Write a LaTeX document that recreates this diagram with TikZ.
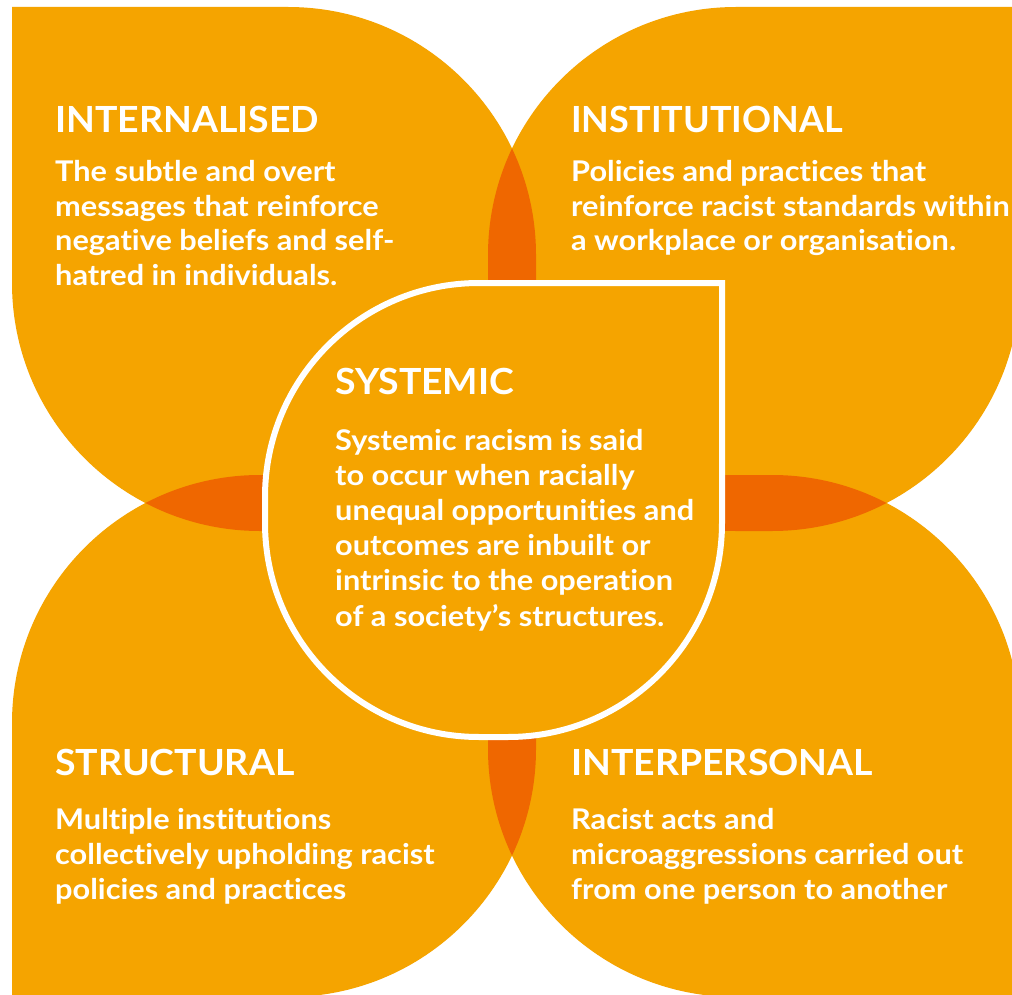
\documentclass[tikz,border=0pt]{standalone}
\usepackage{fontspec}
\setmainfont{Lato}[Ligatures=NoCommon]
\newfontfamily\headfont{Lato}[Ligatures=NoCommon,FakeStretch=1.04]
\newfontfamily\headfontnarrow{Lato}[Ligatures=NoCommon]
\newfontfamily\bodyfont{Lato}[Ligatures=NoCommon,FakeStretch=1.078]
\definecolor{petal}{HTML}{F5A400}
\definecolor{petaldark}{HTML}{EF6700}

% Petal outlines: squares with one sharp outer corner and three rounded ones
\def\petalTL{(12,7) -- (288,7) arc[start angle=-90,end angle=0,radius=248]
  -- (536,283) arc[start angle=0,end angle=90,radius=248]
  -- (260,531) arc[start angle=90,end angle=180,radius=248] -- cycle}
\def\petalTR{(1020,7) -- (1020,283) arc[start angle=0,end angle=90,radius=248]
  -- (736,531) arc[start angle=90,end angle=180,radius=248]
  -- (488,255) arc[start angle=180,end angle=270,radius=248] -- cycle}
\def\petalBL{(12,997) -- (12,723) arc[start angle=180,end angle=270,radius=248]
  -- (288,475) arc[start angle=270,end angle=360,radius=248]
  -- (536,749) arc[start angle=0,end angle=90,radius=248] -- cycle}
\def\petalBR{(1020,997) -- (736,997) arc[start angle=90,end angle=180,radius=248]
  -- (488,723) arc[start angle=180,end angle=270,radius=248]
  -- (772,475) arc[start angle=270,end angle=360,radius=248] -- cycle}
% Central shape: rounded square with a sharp top-right corner
\def\hub{(722,283) -- (722,523) arc[start angle=0,end angle=90,radius=214]
  -- (479,737) arc[start angle=90,end angle=180,radius=214]
  -- (265,497) arc[start angle=180,end angle=270,radius=214] -- cycle}

\begin{document}
\begin{tikzpicture}[x=1pt,y=-1pt,
  heading/.style={anchor=base west,inner sep=0pt,text=white,
    font=\headfont\fontsize{36}{42}\selectfont\bfseries},
  narrowheading/.style={heading,
    font=\headfontnarrow\fontsize{36}{42}\selectfont\bfseries},
  body/.style={anchor=base west,inner sep=0pt,text=white,
    font=\bodyfont\fontsize{28.5}{33}\selectfont\bfseries}]
\useasboundingbox (0,0) rectangle (1012,995);
\fill[white] (0,0) rectangle (1012,995);

% petals
\fill[petal] \petalTL;
\fill[petal] \petalTR;
\fill[petal] \petalBL;
\fill[petal] \petalBR;

% overlaps between neighbouring petals
\begin{scope}
  \clip \petalTL;
  \fill[petaldark] \petalTR;
  \fill[petaldark] \petalBL;
\end{scope}
\begin{scope}
  \clip \petalBR;
  \fill[petaldark] \petalTR;
  \fill[petaldark] \petalBL;
\end{scope}

% central shape
\filldraw[fill=petal,draw=white,line width=6pt] \hub;

% INTERNALISED
\node[heading] (tl-head) at (55,133) {INTERNALISED};
\foreach \t [count=\i] in {The subtle and overt,messages that reinforce,
  negative beliefs and self-,hatred in individuals.}
  \node[body] (tl-\i) at (55,{182+34.4*(\i-1)}) {\t};

% INSTITUTIONAL
\node[narrowheading] (tr-head) at (571,133) {INSTITUTIONAL};
\foreach \t [count=\i] in {Policies and practices that,
  reinforce racist standards within,a workplace or organisation.}
  \node[body] (tr-\i) at (571,{182+34.5*(\i-1)}) {\t};

% SYSTEMIC
\node[heading] (c-head) at (335,394) {SYSTEMIC};
\foreach \t [count=\i] in {Systemic racism is said,to occur when racially,
  unequal opportunities and,outcomes are inbuilt or,
  intrinsic to the operation,of a society’s structures.}
  \node[body] (c-\i) at (335,{450+35.2*(\i-1)}) {\t};

% STRUCTURAL
\node[heading] (bl-head) at (55,775) {STRUCTURAL};
\foreach \t [count=\i] in {Multiple institutions,
  collectively upholding racist,policies and practices}
  \node[body] (bl-\i) at (55,{829+35*(\i-1)}) {\t};

% INTERPERSONAL
\node[heading] (br-head) at (571,775) {INTERPERSONAL};
\foreach \t [count=\i] in {Racist acts and,
  microaggressions carried out,from one person to another}
  \node[body] (br-\i) at (571,{829+35*(\i-1)}) {\t};
\end{tikzpicture}
\end{document}
